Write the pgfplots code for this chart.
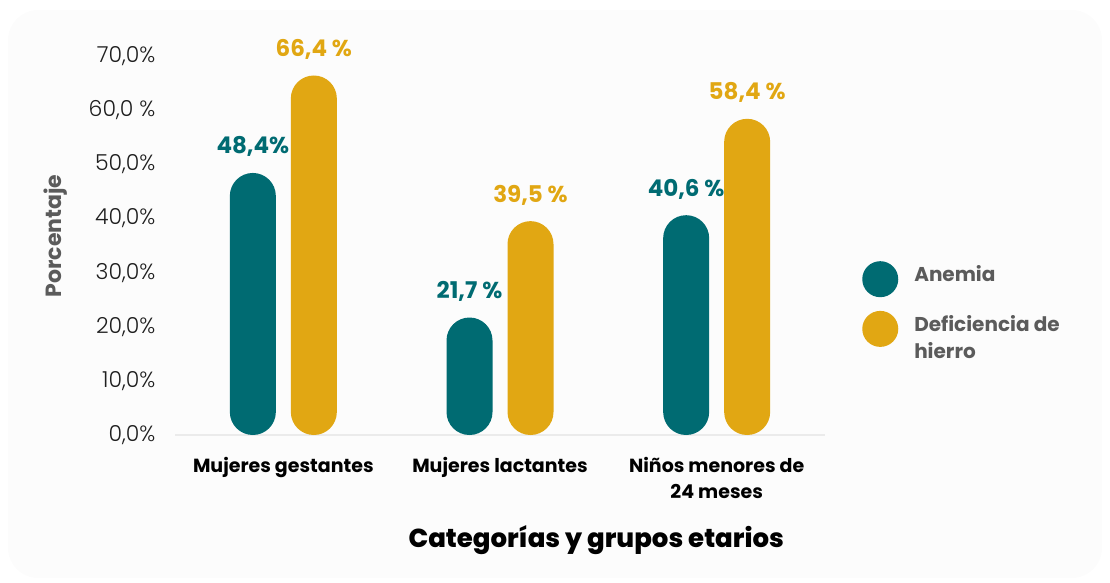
\documentclass[border=0pt]{standalone}
\usepackage{pgfplots}
\pgfplotsset{compat=1.18}
\usepackage{fontspec}
\setmainfont{Poppins}
\newfontfamily\poplight{Poppins Light}
\newfontfamily\popheavy{Poppins ExtraBold}
\definecolor{teal}{HTML}{006B72}
\definecolor{gold}{HTML}{E1A713}
\definecolor{legtxt}{HTML}{5B5B5B}
\definecolor{bgc}{HTML}{FCFCFC}

\begin{document}
\begin{tikzpicture}
\path[use as bounding box] (0,0) rectangle (1110pt,-583pt);
\fill[bgc, rounded corners=30pt] (8pt,-10pt) rectangle (1102pt,-578pt);
\begin{axis}[
  at={(175pt,-435pt)}, anchor=south west,
  scale only axis, width=650pt, height=379pt,
  xmin=-0.5, xmax=2.5, ymin=0, ymax=70,
  ybar, bar width=46pt,
  axis x line=bottom, axis y line=left,
  axis line style={-},
  x axis line style={draw=black!8, line width=2.5pt},
  y axis line style={draw=none},
  major tick length=0pt,
  xtick={0,1,2},
  xticklabels={Mujeres gestantes, Mujeres lactantes, {Niños menores de\\24 meses}},
  xticklabel style={align=center, anchor=north, yshift=-19pt,
    font=\fontsize{19}{26}\selectfont\bfseries},
  ytick={0,10,...,70},
  yticklabels={{0,0\%},{10,0\%},{20,0\%},{30,0\%},{40,0\%},{50,0\%},{60,0 \%},{70,0\%}},
  yticklabel style={font=\fontsize{22}{24}\selectfont\poplight, xshift=-16pt, text=black!88},
  xlabel={Categorías y grupos etarios},
  xlabel style={at={(axis description cs:0.648,-0.277)}, anchor=center,
    font=\fontsize{26}{30}\selectfont\popheavy},
  ylabel={Porcentaje},
  ylabel style={at={(axis description cs:-0.183,0.525)}, anchor=center, rotate=0,
    font=\fontsize{22}{26}\selectfont\bfseries, text=legtxt},
  clip=false,
  nodes near coords, point meta=explicit symbolic,
  nodes near coords style={anchor=base, yshift=19pt,
    font=\fontsize{23}{26}\selectfont\bfseries},
  legend style={at={(1.0524,0.4644)}, anchor=north west, draw=none, fill=none,
    font=\fontsize{20}{27}\selectfont\bfseries, text=legtxt,
    row sep=13pt},
  legend cell align=left,
]
\addplot[fill=teal, draw=none, rounded corners=23pt, bar shift=-30.5pt,
  every node near coord/.append style={text=teal},
  legend image code/.code={\fill[teal] (0pt,-5pt) circle (18pt);}]
  coordinates {(0,48.4) [48,4\%] (1,21.7) [21,7 \%] (2,40.6) [40,6 \%]};
\addlegendentry{\hspace{14pt}Anemia}
\addplot[fill=gold, draw=none, rounded corners=23pt, bar shift=30.5pt,
  every node near coord/.append style={text=gold},
  legend image code/.code={\fill[gold] (0pt,-6.5pt) circle (18pt);}]
  coordinates {(0,66.4) [66,4 \%] (1,39.5) [39,5 \%] (2,58.4) [58,4 \%]};
\addlegendentry{\hspace{14pt}\begin{tabular}[t]{@{}l@{}}Deficiencia de\\hierro\end{tabular}}
\end{axis}
\end{tikzpicture}
\end{document}
